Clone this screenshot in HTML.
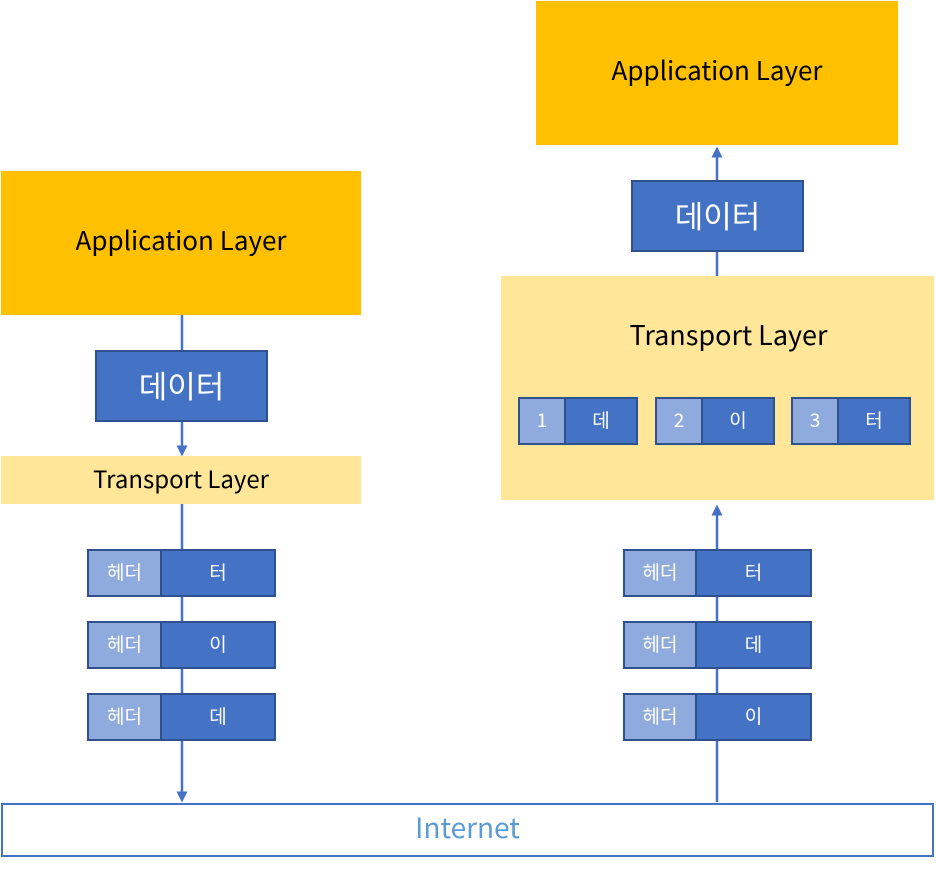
<!DOCTYPE html>
<html><head><meta charset="utf-8"><style>
body{margin:0;width:936px;height:882px;background:#fff;position:relative;overflow:hidden;font-family:"Noto Sans CJK KR","Liberation Sans",sans-serif}
.b{position:absolute;box-sizing:border-box;display:flex;align-items:center;justify-content:center;line-height:1}
.app{background:#FFC000;font-size:26px;color:#000;padding-bottom:6px}
.tr{background:#FFE699;color:#000}
.d{background:#4472C4;border:2px solid #2F528F;color:#fff;padding-bottom:4px}
.l{background:#8FAADC;border:2px solid #2F528F;border-right:none;color:#fff;font-size:19px;padding-bottom:3px}
.r{background:#4472C4;border:2px solid #2F528F;color:#fff;font-size:19px;padding-bottom:3px}
svg{position:absolute;left:0;top:0}
</style></head><body>
<svg width="936" height="882">
<defs><marker id="a" markerWidth="11" markerHeight="11" refX="5.5" refY="5.5" orient="auto" markerUnits="userSpaceOnUse"><path d="M0,0 L11,5.5 L0,11 z" fill="#4472C4"/></marker></defs>
<g stroke="#4472C4" stroke-width="2.5" fill="none">
<line x1="182" y1="315" x2="182" y2="350"/>
<line x1="182" y1="422" x2="182" y2="451" marker-end="url(#a)"/>
<line x1="182" y1="504" x2="182" y2="797" marker-end="url(#a)"/>
<line x1="717" y1="180" x2="717" y2="152" marker-end="url(#a)"/>
<line x1="717" y1="252" x2="717" y2="276"/>
<line x1="717" y1="802" x2="717" y2="510" marker-end="url(#a)"/>
</g></svg>
<div class="b app" style="left:1px;top:171px;width:360px;height:144px">Application Layer</div>
<div class="b d" style="left:95px;top:350px;width:173px;height:72px;font-size:31px">데이터</div>
<div class="b tr" style="left:1px;top:456px;width:360px;height:48px;font-size:24px;padding-bottom:4px">Transport Layer</div>

<div class="b l" style="left:87px;top:549px;width:73px;height:48px">헤더</div><div class="b r" style="left:160px;top:549px;width:116px;height:48px">터</div>
<div class="b l" style="left:87px;top:621px;width:73px;height:48px">헤더</div><div class="b r" style="left:160px;top:621px;width:116px;height:48px">이</div>
<div class="b l" style="left:87px;top:693px;width:73px;height:48px">헤더</div><div class="b r" style="left:160px;top:693px;width:116px;height:48px">데</div>

<div class="b app" style="left:536px;top:1px;width:362px;height:144px">Application Layer</div>
<div class="b d" style="left:631px;top:180px;width:173px;height:72px;font-size:31px">데이터</div>
<div class="b tr" style="left:501px;top:276px;width:433px;height:224px;align-items:flex-start;padding-top:44px;padding-left:22px;font-size:27px">Transport Layer</div>
<div class="b l" style="left:518px;top:397px;width:46px;height:48px">1</div><div class="b r" style="left:564px;top:397px;width:74px;height:48px">데</div>
<div class="b l" style="left:655px;top:397px;width:46px;height:48px">2</div><div class="b r" style="left:701px;top:397px;width:74px;height:48px">이</div>
<div class="b l" style="left:791px;top:397px;width:46px;height:48px">3</div><div class="b r" style="left:837px;top:397px;width:74px;height:48px">터</div>

<div class="b l" style="left:623px;top:549px;width:72px;height:48px">헤더</div><div class="b r" style="left:695px;top:549px;width:117px;height:48px">터</div>
<div class="b l" style="left:623px;top:621px;width:72px;height:48px">헤더</div><div class="b r" style="left:695px;top:621px;width:117px;height:48px">데</div>
<div class="b l" style="left:623px;top:693px;width:72px;height:48px">헤더</div><div class="b r" style="left:695px;top:693px;width:117px;height:48px">이</div>

<div class="b" style="left:1px;top:803px;width:933px;height:54px;border:2px solid #4472C4;color:#5B9BD5;font-size:28px;padding-bottom:6px">Internet</div>
</body></html>
